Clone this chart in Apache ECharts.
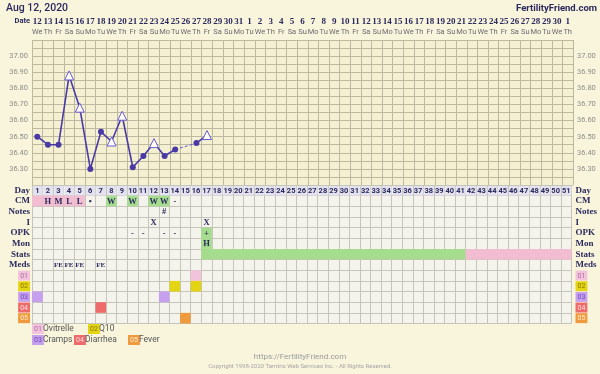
<!DOCTYPE html>
<html><head><meta charset="utf-8">
<script src="https://cdn.jsdelivr.net/npm/echarts@6/dist/echarts.min.js"></script>
<style>html,body{margin:0;padding:0;background:#f9f5dd}#c{width:600px;height:374px}</style>
</head><body><div id="c"></div>
<script>
// ---------- data ----------
const cycleDays = ['1','2','3','4','5','6','7','8','9','10','11','12','13','14','15','16','17','18','19','20','21','22','23','24','25','26','27','28','29','30','31','32','33','34','35','36','37','38','39','40','41','42','43','44','45','46','47','48','49','50','51'];
const dates = ['12','13','14','15','16','17','18','19','20','21','22','23','24','25','26','27','28','29','30','31','1','2','3','4','5','6','7','8','9','10','11','12','13','14','15','16','17','18','19','20','21','22','23','24','25','26','27','28','29','30','1'];
const weekdays = ['We','Th','Fr','Sa','Su','Mo','Tu','We','Th','Fr','Sa','Su','Mo','Tu','We','Th','Fr','Sa','Su','Mo','Tu','We','Th','Fr','Sa','Su','Mo','Tu','We','Th','Fr','Sa','Su','Mo','Tu','We','Th','Fr','Sa','Su','Mo','Tu','We','Th','Fr','Sa','Su','Mo','Tu','We','Th'];
const temps = [36.50,36.45,36.45,36.88,36.68,36.30,36.53,36.47,36.63,36.31,36.38,36.46,36.38,36.42,null,36.46,36.51];
const openPoints = [0,0,0,1,1,0,0,1,1,0,0,1,0,0,0,0,1];
const tempTicks = ['36.30','36.40','36.50','36.60','36.70','36.80','36.90','37.00'];
const rowNames = ['Day','CM','Notes','I','OPK','Mon','Stats','Meds','01','02','03','04','05'];
const cmText = ['','H','M','L','L','•','','W','','W','','W','W','-'];
const cmFill = ['pink','pink','pink','pink','pink','','','green','','green','','green','green',''];
const notesEntries = [[13,'#']];
const intercourseEntries = [[12,'X'],[17,'X']];
const opkEntries = [[10,'-'],[11,'-'],[13,'-'],[14,'-'],[17,'+']];
const opkFill = [[17,'green']];
const monEntries = [[17,'H']];
const monFill = [[17,'green']];
const statsSpans = [[17,41,'green'],[42,51,'pink']];
const medsText = [[3,'FE'],[4,'FE'],[5,'FE'],[7,'FE']];
const medCodes = ['01','02','03','04','05'];
const medNames = ['Ovitrelle','Q10','Cramps','Diarrhea','Fever'];
const medDays = [[16],[14,16],[1,13],[7],[15]];

// ---------- styles ----------
const C = {pink:'#f3bdd1', green:'#a5dc8e', day:'#e3e2ee', navy:'#2b2a5e', line:'#4a3aa5'};
const medBg = ['#f2c4dc','#e4d514','#c6a0ee','#ee6b6b','#ef9a3c'];
const medFg = ['#b06aa8','#8a7800','#6f48b8','#ffe0e0','#fff0d8'];
const serif = 'Liberation Serif';

// ---------- build marks ----------
const rects = []; // [x0, x1, row, color, inset]
cycleDays.forEach((d,i)=>rects.push([i,i,0,C.day,1]));
cmFill.forEach((f,i)=>{ if(f) rects.push([i,i,1,C[f],0]); });
opkFill.forEach(e=>rects.push([e[0]-1,e[0]-1,4,C[e[1]],0]));
monFill.forEach(e=>rects.push([e[0]-1,e[0]-1,5,C[e[1]],0]));
statsSpans.forEach(s=>rects.push([s[0]-1,s[1]-1,6,C[s[2]],0]));
medDays.forEach((days,m)=>days.forEach(d=>rects.push([d-1,d-1,8+m,medBg[m],0])));

const texts = []; // [x, row, text, kind]
cycleDays.forEach((d,i)=>texts.push([i,0,d,'day']));
cmText.forEach((t,i)=>{ if(t) texts.push([i,1,t,'cell']); });
notesEntries.forEach(e=>texts.push([e[0]-1,2,e[1],'cell']));
intercourseEntries.forEach(e=>texts.push([e[0]-1,3,e[1],'cell']));
opkEntries.forEach(e=>texts.push([e[0]-1,4,e[1],'cell']));
monEntries.forEach(e=>texts.push([e[0]-1,5,e[1],'cell']));
medsText.forEach(e=>texts.push([e[0]-1,7,e[1],'small']));

const tempData = temps.map((t,i)=> t==null ? '-' : (openPoints[i]
  ? {value:t, symbol:'triangle', symbolSize:9, itemStyle:{color:'#ffffff', borderColor:'#6a5bd0', borderWidth:1}}
  : {value:t, symbol:'circle', symbolSize:6, itemStyle:{color:C.line}}));
const gapData = temps.map(()=> '-');
temps.forEach((t,i)=>{ if(t==null){ gapData[i-1]=temps[i-1]; gapData[i+1]=temps[i+1]; } });

const medRich = {};
medCodes.forEach((c,i)=>{ medRich['m'+i] = {backgroundColor:medBg[i], color:medFg[i], fontSize:7, fontFamily:'Roboto', padding:[2,2,1,2]}; });
const rowRich = Object.assign({r:{fontFamily:serif, fontWeight:'bold', fontSize:9, color:C.navy}}, medRich);
const rowFmt = (v,i)=> i>=8 ? '{m'+(i-8)+'|'+v+'}' : '{r|'+v+'}';

const tempAxisLabel = {fontSize:7.5, color:'#8e8c86', fontFamily:'Roboto',
  formatter: v => { const s=v.toFixed(2); return tempTicks.indexOf(s)>=0 ? s : ''; }};

const legendEls = [];
const legendPos = [[32,329],[88,329],[32,340],[74,340],[128,340]];
medNames.forEach((n,i)=>{
  legendEls.push({type:'text', left:legendPos[i][0], top:legendPos[i][1]-5, style:{text:medCodes[i], fill:medFg[i], backgroundColor:medBg[i], padding:[2,2,1,2], fontSize:7, fontFamily:'Roboto'}});
  legendEls.push({type:'text', left:legendPos[i][0]+11, top:legendPos[i][1]-5, style:{text:n, fill:'#555', fontSize:8.5, fontFamily:'Roboto'}});
});

const chart = echarts.init(document.getElementById('c'), null, {renderer:'canvas'});
chart.setOption({
  backgroundColor:'#f9f5dd',
  animation:false,
  grid:[
    {left:32, right:27, top:40, height:145, show:true, backgroundColor:'#f5f0d2', borderWidth:0},
    {left:32, right:27, top:185, height:138.5, show:true, backgroundColor:'#f5f4ec', borderWidth:0}
  ],
  xAxis:[
    {type:'category', gridIndex:0, data:cycleDays, position:'top', axisLine:{show:false}, axisTick:{show:false},
     splitLine:{show:true, interval:0, lineStyle:{color:'#bdb8a0', width:1}},
     axisLabel:{interval:0, margin:3, formatter:(v,i)=>'{d|'+dates[i]+'}\n{w|'+weekdays[i]+'}',
       rich:{d:{fontFamily:serif, fontWeight:'bold', fontSize:9, color:C.navy, lineHeight:11},
             w:{fontFamily:'Roboto', fontSize:7.5, color:'#6b6b70', lineHeight:10}}}},
    {type:'category', gridIndex:1, data:cycleDays, axisLine:{show:false}, axisTick:{show:false}, axisLabel:{show:false},
     splitLine:{show:true, interval:0, lineStyle:{color:'#c6c5bc', width:1}}}
  ],
  yAxis:[
    {type:'value', gridIndex:0, min:36.2, max:37.1, interval:0.05, axisLine:{show:false}, axisTick:{show:false},
     splitLine:{lineStyle:{color:'#bdb8a0', width:1}}, axisLabel:Object.assign({margin:4}, tempAxisLabel)},
    {type:'value', gridIndex:0, min:36.2, max:37.1, interval:0.05, position:'right', axisLine:{show:false}, axisTick:{show:false},
     splitLine:{show:false}, axisLabel:Object.assign({margin:4}, tempAxisLabel)},
    {type:'category', gridIndex:1, data:rowNames, inverse:true, axisLine:{show:false}, axisTick:{show:false},
     splitLine:{show:true, interval:0, lineStyle:{color:'#c6c5bc', width:1}},
     axisLabel:{interval:0, margin:2, formatter:rowFmt, rich:rowRich}},
    {type:'category', gridIndex:1, data:rowNames, inverse:true, position:'right', axisLine:{show:false}, axisTick:{show:false},
     splitLine:{show:false}, axisLabel:{interval:0, margin:4, formatter:rowFmt, rich:rowRich}}
  ],
  series:[
    {type:'line', xAxisIndex:0, yAxisIndex:0, data:gapData, connectNulls:true, symbol:'none',
     lineStyle:{color:'#6a5bd0', width:1, type:[3,2]}, z:3},
    {type:'line', xAxisIndex:0, yAxisIndex:0, data:tempData, connectNulls:false,
     lineStyle:{color:C.line, width:1.6}, z:4},
    {type:'custom', xAxisIndex:1, yAxisIndex:2, data:rects.map(r=>[r[0],r[2]]), encode:{x:0,y:1}, z:2,
     renderItem:(params, api)=>{
       const r = rects[params.dataIndex];
       const a = api.coord([r[0], r[2]]), b = api.coord([r[1], r[2]]);
       const s = api.size([1,1]); const ins = r[4];
       return {type:'rect', shape:{x:a[0]-s[0]/2+ins, y:a[1]-s[1]/2+ins, width:b[0]-a[0]+s[0]-ins, height:s[1]-ins}, style:{fill:r[3]}};
     }},
    {type:'custom', xAxisIndex:1, yAxisIndex:2, data:texts.map(t=>[t[0],t[1]]), encode:{x:0,y:1}, z:5,
     renderItem:(params, api)=>{
       const t = texts[params.dataIndex];
       const p = api.coord([t[0], t[1]]);
       const kind = t[3];
       return {type:'text', style:{text:t[2], x:p[0], y:p[1]+0.5, align:'center', verticalAlign:'middle',
         fill:C.navy, fontSize:kind==='day'?7.5:(kind==='small'?7:8.5), fontWeight:'bold', fontFamily:kind==='day'?'Roboto':serif}};
     }}
  ],
  graphic: [
    {type:'text', left:6, top:3, style:{text:'Aug 12, 2020', fill:C.navy, fontSize:10.5, fontWeight:500, fontFamily:'Roboto'}},
    {type:'text', right:3, top:4, style:{text:'FertilityFriend.com', fill:C.navy, fontSize:9.5, fontWeight:'bold', fontFamily:'Roboto'}},
    {type:'text', right:570, top:17, style:{text:'Date', fill:C.navy, fontSize:7.5, fontWeight:'bold', fontFamily:'Roboto'}},
    {type:'text', left:'center', top:353, style:{text:'https://FertilityFriend.com', fill:'#9a9a9a', fontSize:8, fontFamily:'Roboto'}},
    {type:'text', left:'center', top:363, style:{text:'Copyright 1998-2020 Tamtris Web Services Inc. - All Rights Reserved.', fill:'#a5a5a5', fontSize:6, fontFamily:'Roboto'}}
  ].concat(legendEls)
});
</script></body></html>
